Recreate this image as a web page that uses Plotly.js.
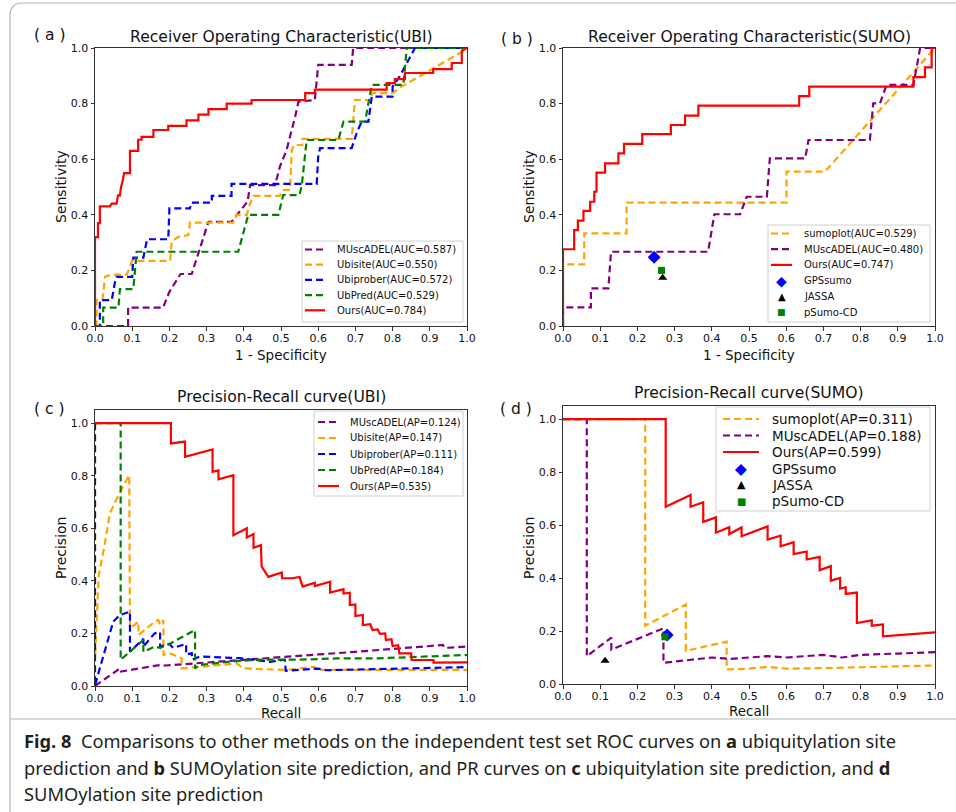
<!DOCTYPE html>
<html>
<head>
<meta charset="utf-8">
<script src="https://cdn.plot.ly/plotly-3.0.1.min.js"></script>
<style>
html,body{margin:0;padding:0;background:#fff;}
#chart{width:956px;height:812px;}
</style>
</head>
<body>
<div id="chart"></div>
<script>
// ---------- Panel (a): ROC, UBI ----------
const aMuscX = [0,0.089,0.089,0.183,0.2,0.23,0.26,0.305,0.367,0.41,0.417,0.484,0.497,0.515,0.538,0.547,0.591,0.6,0.69,0.694,1];
const aMuscY = [0,0,0.066,0.066,0.123,0.187,0.187,0.375,0.375,0.447,0.507,0.507,0.573,0.633,0.753,0.807,0.813,0.939,0.939,1,1];
const aUbisiteX = [0,0.004,0.004,0.02,0.027,0.045,0.085,0.094,0.099,0.202,0.206,0.224,0.251,0.255,0.372,0.381,0.408,0.417,0.426,0.497,0.506,0.524,0.529,0.535,0.557,0.557,0.69,0.699,0.744,0.744,0.8,0.824,0.995,1];
const aUbisiteY = [0,0,0.094,0.094,0.177,0.185,0.185,0.21,0.234,0.234,0.303,0.321,0.327,0.372,0.372,0.4,0.4,0.441,0.468,0.468,0.489,0.49,0.633,0.651,0.651,0.673,0.673,0.813,0.813,0.838,0.838,0.861,0.993,1];
const aUbiproberX = [0,0.013,0.013,0.045,0.054,0.058,0.1,0.103,0.13,0.14,0.197,0.2,0.255,0.26,0.314,0.314,0.367,0.367,0.596,0.6,0.605,0.69,0.705,0.717,0.735,0.744,0.8,0.8,0.82,0.851,0.86,1];
const aUbiproberY = [0,0,0.093,0.093,0.16,0.177,0.177,0.246,0.246,0.312,0.312,0.423,0.423,0.444,0.444,0.468,0.468,0.511,0.511,0.609,0.64,0.64,0.7,0.735,0.735,0.825,0.825,0.861,0.9,0.981,1,1];
const aUbPredX = [0,0.022,0.022,0.063,0.067,0.103,0.112,0.385,0.412,0.493,0.506,0.55,0.556,0.569,0.654,0.668,0.726,0.744,0.829,0.838,1];
const aUbPredY = [0,0,0.066,0.066,0.133,0.133,0.267,0.267,0.4,0.4,0.471,0.471,0.507,0.669,0.669,0.735,0.735,0.867,0.867,1,1];
const aOursX = [0,0,0.008,0.008,0.013,0.013,0.04,0.045,0.058,0.062,0.067,0.07,0.075,0.078,0.094,0.094,0.116,0.116,0.125,0.125,0.157,0.157,0.197,0.197,0.246,0.246,0.278,0.278,0.305,0.305,0.354,0.354,0.421,0.421,0.565,0.565,0.591,0.591,0.784,0.784,0.806,0.806,0.833,0.833,0.909,0.909,0.959,0.959,0.986,0.986,1];
const aOursY = [0,0.32,0.32,0.37,0.37,0.43,0.43,0.44,0.44,0.47,0.47,0.5,0.525,0.55,0.55,0.63,0.63,0.67,0.67,0.68,0.68,0.705,0.705,0.72,0.72,0.74,0.74,0.76,0.76,0.78,0.78,0.8,0.8,0.813,0.813,0.838,0.838,0.85,0.85,0.874,0.874,0.888,0.888,0.91,0.91,0.924,0.924,0.946,0.946,0.99,1];

// ---------- Panel (b): ROC, SUMO ----------
const bSumoplotX = [0,0,0.057,0.057,0.171,0.171,0.601,0.601,0.704,0.995,1];
const bSumoplotY = [0,0.222,0.222,0.333,0.333,0.444,0.444,0.555,0.555,0.993,1];
const bMuscX = [0,0,0.075,0.075,0.122,0.129,0.39,0.407,0.476,0.494,0.548,0.556,0.651,0.66,0.825,0.834,0.852,0.87,0.942,0.951,0.96,1];
const bMuscY = [0,0.067,0.067,0.135,0.135,0.267,0.267,0.402,0.402,0.465,0.465,0.603,0.603,0.669,0.669,0.801,0.801,0.867,0.867,0.933,1,1];
const bOursX = [0,0,0.03,0.03,0.04,0.04,0.055,0.055,0.073,0.073,0.084,0.084,0.09,0.09,0.113,0.113,0.149,0.149,0.164,0.164,0.213,0.213,0.29,0.29,0.328,0.328,0.364,0.364,0.635,0.635,0.662,0.662,0.942,0.942,0.973,0.973,0.991,0.991,1];
const bOursY = [0,0.276,0.276,0.345,0.345,0.379,0.379,0.414,0.414,0.447,0.447,0.483,0.483,0.552,0.552,0.585,0.585,0.621,0.621,0.655,0.655,0.69,0.69,0.723,0.723,0.757,0.757,0.793,0.793,0.827,0.827,0.861,0.861,0.895,0.895,0.93,0.93,1,1];
const bGpsX = [0.245], bGpsY = [0.247];
const bJassaX = [0.268], bJassaY = [0.174];
const bPsumoX = [0.265], bPsumoY = [0.2];

// ---------- Panel (c): PR, UBI ----------
const cMuscX = [0,0.067,0.07,0.175,0.19,0.3,0.4,0.52,0.6,0.7,0.8,0.935,0.94,1];
const cMuscY = [0,0.067,0.055,0.08,0.078,0.09,0.1,0.112,0.12,0.13,0.14,0.156,0.145,0.15];
const cUbisiteX = [0,0,0.003,0.006,0.01,0.018,0.025,0.04,0.063,0.092,0.094,0.117,0.117,0.161,0.17,0.175,0.184,0.184,0.202,0.233,0.233,0.3,0.381,0.399,0.515,0.59,0.6,1];
const cUbisiteY = [1,0.1,0.2,0.33,0.42,0.48,0.53,0.657,0.726,0.802,0.219,0.245,0.194,0.245,0.251,0.232,0.251,0.118,0.124,0.105,0.067,0.075,0.086,0.067,0.061,0.073,0.061,0.061];
const cUbiproberX = [0,0,0.009,0.027,0.049,0.067,0.094,0.094,0.13,0.13,0.16,0.175,0.175,0.2,0.21,0.245,0.245,0.26,0.262,0.282,0.39,0.47,0.51,0.513,0.6,0.62,0.8,1];
const cUbiproberY = [1,0,0.048,0.137,0.245,0.27,0.283,0.13,0.18,0.15,0.2,0.205,0.15,0.16,0.145,0.16,0.12,0.125,0.1,0.112,0.106,0.092,0.1,0.058,0.066,0.06,0.065,0.072];
const cUbPredX = [0,0.069,0.069,0.13,0.13,0.16,0.175,0.2,0.269,0.269,0.28,0.38,0.45,0.55,0.65,0.75,0.85,1];
const cUbPredY = [1,1,0.1,0.175,0.13,0.15,0.145,0.16,0.213,0.067,0.08,0.095,0.1,0.1,0.105,0.105,0.11,0.118];
const cOursX = [0,0.204,0.204,0.242,0.242,0.316,0.316,0.332,0.332,0.372,0.372,0.408,0.408,0.426,0.426,0.446,0.448,0.466,0.502,0.503,0.53,0.55,0.558,0.591,0.591,0.632,0.632,0.668,0.668,0.685,0.685,0.7,0.7,0.72,0.72,0.74,0.746,0.76,0.766,0.78,0.782,0.797,0.8,0.815,0.818,0.85,0.851,0.91,0.91,1];
const cOursY = [1,1,0.923,0.93,0.872,0.9,0.815,0.82,0.786,0.802,0.574,0.6,0.565,0.578,0.526,0.536,0.454,0.415,0.432,0.41,0.41,0.415,0.378,0.393,0.38,0.397,0.355,0.368,0.352,0.355,0.308,0.31,0.266,0.27,0.232,0.235,0.213,0.215,0.198,0.2,0.175,0.178,0.152,0.155,0.124,0.124,0.099,0.099,0.089,0.09];

// ---------- Panel (d): PR, SUMO ----------
const dSumoplotX = [0,0.221,0.221,0.33,0.33,0.44,0.44,0.5,0.55,0.6,0.7,0.8,0.9,1];
const dSumoplotY = [1,1,0.22,0.3,0.125,0.16,0.055,0.058,0.065,0.058,0.06,0.063,0.065,0.07];
const dMuscX = [0,0.064,0.064,0.13,0.13,0.27,0.27,0.4,0.45,0.55,0.6,0.7,0.75,0.8,0.9,1];
const dMuscY = [1,1,0.105,0.175,0.13,0.21,0.08,0.1,0.095,0.105,0.1,0.11,0.1,0.11,0.115,0.12];
const dOursX = [0,0.276,0.276,0.343,0.343,0.377,0.377,0.411,0.411,0.447,0.447,0.48,0.48,0.55,0.55,0.585,0.585,0.62,0.62,0.655,0.655,0.69,0.69,0.72,0.72,0.745,0.745,0.76,0.76,0.79,0.79,0.83,0.83,0.86,0.86,0.9,1];
const dOursY = [1,1,0.669,0.713,0.669,0.686,0.612,0.629,0.571,0.592,0.566,0.591,0.558,0.595,0.545,0.56,0.52,0.535,0.49,0.5,0.47,0.48,0.43,0.445,0.39,0.4,0.36,0.365,0.34,0.345,0.23,0.24,0.22,0.225,0.18,0.185,0.195];
const dGpsX = [0.28], dGpsY = [0.185];
const dJassaX = [0.113], dJassaY = [0.088];
const dPsumoX = [0.274], dPsumoY = [0.178];

// ---------- legend labels ----------
const legendA = ['MUscADEL(AUC=0.587)','Ubisite(AUC=0.550)','Ubiprober(AUC=0.572)','UbPred(AUC=0.529)','Ours(AUC=0.784)'];
const legendB = ['sumoplot(AUC=0.529)','MUscADEL(AUC=0.480)','Ours(AUC=0.747)','GPSsumo','JASSA','pSumo-CD'];
const legendC = ['MUscADEL(AP=0.124)','Ubisite(AP=0.147)','Ubiprober(AP=0.111)','UbPred(AP=0.184)','Ours(AP=0.535)'];
const legendD = ['sumoplot(AP=0.311)','MUscADEL(AP=0.188)','Ours(AP=0.599)','GPSsumo','JASSA','pSumo-CD'];

// ---------- text ----------
const titles = ['Receiver Operating Characteristic(UBI)','Receiver Operating Characteristic(SUMO)','Precision-Recall curve(UBI)','Precision-Recall curve(SUMO)'];
const panelLabels = ['( a )','( b )','( c )','( d )'];
const xTitles = ['1 - Specificity','1 - Specificity','Recall','Recall'];
const yTitles = ['Sensitivity','Sensitivity','Precision','Precision'];
const captionLines = [
  '<b>Fig. 8</b>  Comparisons to other methods on the independent test set ROC curves on <b>a</b> ubiquitylation site',
  'prediction and <b>b</b> SUMOylation site prediction, and PR curves on <b>c</b> ubiquitylation site prediction, and <b>d</b>',
  'SUMOylation site prediction'
];

// ---------- helpers ----------
const W = 956, H = 812;
const PX = v => v / W;
const PY = v => 1 - v / H;
const C = {purple:'#800080', orange:'#FFA500', blue:'#0000FF', green:'#008000', red:'#FF0000', black:'#000000'};
const DASH = '7px,4px';
const LW = 2.2;
function line(x, y, name, color, dashed, xa, ya) {
  return {x:x, y:y, name:name, type:'scatter', mode:'lines', xaxis:xa, yaxis:ya, showlegend:false,
    line:{color:color, width:LW, dash: dashed ? DASH : 'solid'}, hoverinfo:'skip'};
}
function mark(x, y, name, color, symbol, size, xa, ya) {
  return {x:x, y:y, name:name, type:'scatter', mode:'markers', xaxis:xa, yaxis:ya, showlegend:false,
    marker:{color:color, symbol:symbol, size:size, line:{width:0}}, hoverinfo:'skip'};
}

const traces = [
  line(aMuscX, aMuscY, legendA[0], C.purple, true, 'x', 'y'),
  line(aUbisiteX, aUbisiteY, legendA[1], C.orange, true, 'x', 'y'),
  line(aUbiproberX, aUbiproberY, legendA[2], C.blue, true, 'x', 'y'),
  line(aUbPredX, aUbPredY, legendA[3], C.green, true, 'x', 'y'),
  line(aOursX, aOursY, legendA[4], C.red, false, 'x', 'y'),

  line(bSumoplotX, bSumoplotY, legendB[0], C.orange, true, 'x2', 'y2'),
  line(bMuscX, bMuscY, legendB[1], C.purple, true, 'x2', 'y2'),
  line(bOursX, bOursY, legendB[2], C.red, false, 'x2', 'y2'),
  mark(bGpsX, bGpsY, legendB[3], C.blue, 'diamond', 10, 'x2', 'y2'),
  mark(bJassaX, bJassaY, legendB[4], C.black, 'triangle-up', 8, 'x2', 'y2'),
  mark(bPsumoX, bPsumoY, legendB[5], C.green, 'square', 7, 'x2', 'y2'),

  line(cMuscX, cMuscY, legendC[0], C.purple, true, 'x3', 'y3'),
  line(cUbisiteX, cUbisiteY, legendC[1], C.orange, true, 'x3', 'y3'),
  line(cUbiproberX, cUbiproberY, legendC[2], C.blue, true, 'x3', 'y3'),
  line(cUbPredX, cUbPredY, legendC[3], C.green, true, 'x3', 'y3'),
  line(cOursX, cOursY, legendC[4], C.red, false, 'x3', 'y3'),

  line(dSumoplotX, dSumoplotY, legendD[0], C.orange, true, 'x4', 'y4'),
  line(dMuscX, dMuscY, legendD[1], C.purple, true, 'x4', 'y4'),
  line(dOursX, dOursY, legendD[2], C.red, false, 'x4', 'y4'),
  mark(dGpsX, dGpsY, legendD[3], C.blue, 'diamond', 10, 'x4', 'y4'),
  mark(dJassaX, dJassaY, legendD[4], C.black, 'triangle-up', 8, 'x4', 'y4'),
  mark(dPsumoX, dPsumoY, legendD[5], C.green, 'square', 7, 'x4', 'y4')
];

const FONT = 'DejaVu Sans, sans-serif';
function xax(domain, anchor) {
  return {domain:domain, anchor:anchor, range:[0,1], dtick:0.1, tick0:0, tickformat:'.1f',
    showline:true, mirror:true, linecolor:'#333', linewidth:1, ticks:'outside', ticklen:3.5, tickcolor:'#333',
    ticklabelstandoff:-2,
    showgrid:false, zeroline:false, tickfont:{family:FONT, size:11, color:'#111'}, fixedrange:true};
}
function yax(domain, anchor, top) {
  return {domain:domain, anchor:anchor, range:[0,top], dtick:0.2, tick0:0, tickformat:'.1f',
    showline:true, mirror:true, linecolor:'#333', linewidth:1, ticks:'outside', ticklen:3.5, tickcolor:'#333',
    showgrid:false, zeroline:false, tickfont:{family:FONT, size:11, color:'#111'}, fixedrange:true};
}
const dxL = [PX(95), PX(467)], dxR = [PX(563), PX(935)];

const ann = [];
const shapes = [];

// ---------- hand-drawn legend boxes (matplotlib style) ----------
function drawLegend(labels, kinds, colors, box, rows, hx, tx, fs, gscale) {
  shapes.push({type:'rect', xref:'paper', yref:'paper', layer:'above',
    x0:PX(box[0]), x1:PX(box[2]), y0:PY(box[3]), y1:PY(box[1]),
    fillcolor:'rgba(255,255,255,0.85)', line:{color:'#d0d0d0', width:1}});
  labels.forEach((lab, i) => {
    const y = rows[i], k = kinds[i], col = colors[i];
    if (k === 'dash' || k === 'solid') {
      shapes.push({type:'line', xref:'paper', yref:'paper', layer:'above',
        x0:PX(hx[0]), x1:PX(hx[1]), y0:PY(y), y1:PY(y),
        line:{color:col, width:LW, dash: k === 'dash' ? DASH : 'solid'}});
    } else {
      const glyph = {diamond:'\u25C6', triangle:'\u25B2', square:'\u25A0'}[k];
      const gs = {diamond:14, triangle:10, square:9}[k] * gscale;
      ann.push({text:glyph, x:PX((hx[0]+hx[1])/2), y:PY(y), xref:'paper', yref:'paper',
        xanchor:'center', yanchor:'middle', showarrow:false, font:{family:FONT, size:gs, color:col}});
    }
    ann.push({text:lab, x:PX(tx), y:PY(y), xref:'paper', yref:'paper',
      xanchor:'left', yanchor:'middle', showarrow:false, font:{family:FONT, size:fs, color:'#111'}});
  });
}
drawLegend(legendA, ['dash','dash','dash','dash','solid'], [C.purple,C.orange,C.blue,C.green,C.red],
  [302,241,463,322], [249.5,264.7,279.9,295.1,310.3], [305,325], 335, 10, 1);
drawLegend(legendB, ['dash','dash','solid','diamond','triangle','square'], [C.orange,C.purple,C.red,C.blue,C.black,C.green],
  [768,225,930,322], [233.5,249.2,264.9,280.6,296.3,312], [771,792], 801.5, 10, 1);
drawLegend(legendC, ['dash','dash','dash','dash','solid'], [C.purple,C.orange,C.blue,C.green,C.red],
  [314,411,463,496], [422,438,454,470,486], [318,339], 348, 10, 1);
drawLegend(legendD, ['dash','dash','solid','diamond','triangle','square'], [C.orange,C.purple,C.red,C.blue,C.black,C.green],
  [716,407,930,511], [419,435.5,452,468.5,485,501.5], [723,759], 770, 13.5, 1.1);

// ---------- titles and labels ----------
const titlePos = [[281,37],[749,37],[281,397],[749,393]];
const labelPos = [[49,35],[517,39],[49,409],[516,409]];
const xtPos = [[281,355],[749,355],[281,713],[749,711]];
const ytPos = [[61,187],[529,187],[61,548],[529,548]];
for (let i = 0; i < 4; i++) {
  ann.push({text:titles[i], x:PX(titlePos[i][0]), y:PY(titlePos[i][1]), xref:'paper', yref:'paper',
    xanchor:'center', yanchor:'middle', showarrow:false, font:{family:FONT, size:15.6, color:'#111'}});
  ann.push({text:panelLabels[i], x:PX(labelPos[i][0]), y:PY(labelPos[i][1]), xref:'paper', yref:'paper',
    xanchor:'center', yanchor:'middle', showarrow:false, font:{family:FONT, size:15.5, color:'#111'}});
  ann.push({text:xTitles[i], x:PX(xtPos[i][0]), y:PY(xtPos[i][1]), xref:'paper', yref:'paper',
    xanchor:'center', yanchor:'middle', showarrow:false, font:{family:FONT, size:13.5, color:'#111'}});
  ann.push({text:yTitles[i], x:PX(ytPos[i][0]), y:PY(ytPos[i][1]), xref:'paper', yref:'paper', textangle:-90,
    xanchor:'center', yanchor:'middle', showarrow:false, font:{family:FONT, size:14, color:'#111'}});
}
const capY = [740, 767, 793];
for (let i = 0; i < 3; i++) {
  ann.push({text:captionLines[i], x:PX(22), y:PY(capY[i]), xref:'paper', yref:'paper',
    xanchor:'left', yanchor:'middle', showarrow:false, align:'left',
    font:{family:'Noto Sans, sans-serif', size:18.3, color:'#231f20'}});
}

// ---------- outer frame ----------
shapes.push({type:'path', xref:'paper', yref:'paper', layer:'below',
  path:'M '+PX(10)+','+PY(900)+' L '+PX(10)+','+PY(16)+' Q '+PX(10)+','+PY(3)+' '+PX(23)+','+PY(3)+' L '+PX(990)+','+PY(3),
  line:{color:'#b5b5b5', width:1.2}});
shapes.push({type:'line', xref:'paper', yref:'paper', layer:'below', x0:PX(10), x1:PX(990), y0:PY(719), y1:PY(719),
  line:{color:'#b5b5b5', width:1.2}});

const layout = {
  width:W, height:H, margin:{l:0, r:0, t:0, b:0},
  paper_bgcolor:'#ffffff', plot_bgcolor:'#ffffff',
  showlegend:false,
  xaxis: xax(dxL, 'y'), yaxis: yax([PY(326), PY(48)], 'x', 1),
  xaxis2: xax(dxR, 'y2'), yaxis2: yax([PY(326), PY(48)], 'x2', 1),
  xaxis3: xax(dxL, 'y3'), yaxis3: yax([PY(686), PY(410)], 'x3', 1.05),
  xaxis4: xax(dxR, 'y4'), yaxis4: yax([PY(684), PY(405.8)], 'x4', 1.05),
  annotations: ann,
  shapes: shapes
};

Plotly.newPlot('chart', traces, layout, {displayModeBar:false, staticPlot:true});
</script>
</body>
</html>
